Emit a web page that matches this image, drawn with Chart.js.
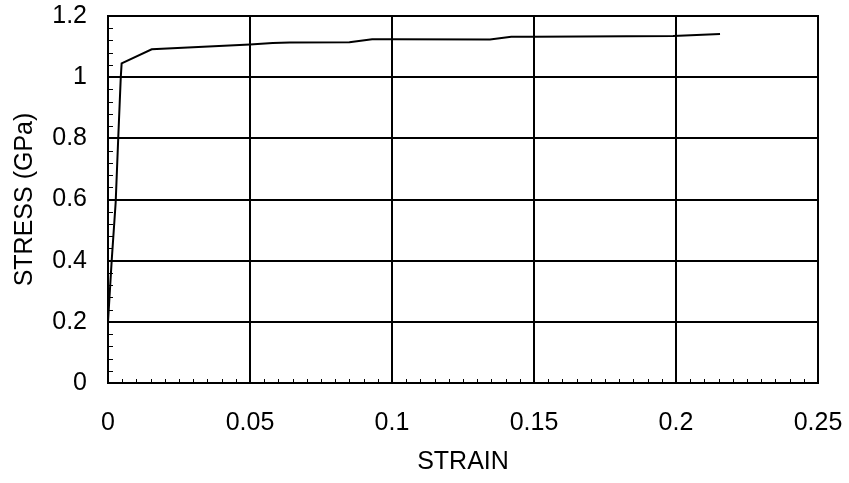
<!DOCTYPE html>
<html>
<head>
<meta charset="utf-8">
<script src="https://cdn.jsdelivr.net/npm/chart.js@4.4.1/dist/chart.umd.min.js"></script>
<style>
html,body{margin:0;padding:0;background:#fff;}
#wrap{width:849px;height:483px;position:relative;}
</style>
</head>
<body>
<div id="wrap"><canvas id="c" width="849" height="483"></canvas></div>
<script>
// Data
const strain = [0, 0.0013, 0.0027, 0.0036, 0.0045, 0.0048, 0.0154, 0.05, 0.058, 0.064, 0.085, 0.093, 0.1, 0.1345, 0.142, 0.15, 0.199, 0.2155];
const stress = [0.2, 0.4, 0.59, 0.8, 1.0, 1.045, 1.091, 1.107, 1.112, 1.113, 1.114, 1.124, 1.124, 1.123, 1.132, 1.132, 1.135, 1.141];
const xTicks = [0, 0.05, 0.1, 0.15, 0.2, 0.25];
const yTicks = [0, 0.2, 0.4, 0.6, 0.8, 1, 1.2];
const xMinorStep = 0.005;
const yMinorStep = 0.04;

const points = strain.map((x, i) => ({x: x, y: stress[i]}));
const FONT = "'Liberation Sans', Arial, sans-serif";

const frame = {
  id: 'frame',
  afterDatasetsDraw(chart) {
    const {ctx, chartArea: a, scales} = chart;
    ctx.save();
    ctx.strokeStyle = '#000';
    ctx.lineWidth = 1;
    const ys = scales.y;
    for (let v = 0; v <= 1.2 + 1e-9; v += yMinorStep) {
      const p = Math.round(ys.getPixelForValue(v)) + 0.5;
      ctx.beginPath(); ctx.moveTo(a.left, p); ctx.lineTo(a.left + 5, p); ctx.stroke();
    }
    const xs = scales.x;
    for (let v = 0; v <= 0.25 + 1e-9; v += xMinorStep) {
      const p = Math.round(xs.getPixelForValue(v)) + 0.5;
      ctx.beginPath(); ctx.moveTo(p, a.bottom); ctx.lineTo(p, a.bottom - 4); ctx.stroke();
    }
    ctx.lineWidth = 2;
    ctx.strokeRect(a.left, a.top, a.right - a.left, a.bottom - a.top);
    ctx.restore();
  }
};

new Chart(document.getElementById('c'), {
  type: 'scatter',
  data: {
    datasets: [{
      data: points,
      showLine: true,
      borderColor: '#000',
      borderWidth: 2,
      pointRadius: 0,
      tension: 0,
      fill: false
    }]
  },
  options: {
    responsive: false,
    animation: false,
    events: [],
    layout: {padding: {left: 0, right: 31, top: 16, bottom: 6}},
    plugins: {legend: {display: false}, tooltip: {enabled: false}},
    scales: {
      x: {
        type: 'linear', min: 0, max: 0.25,
        afterBuildTicks: s => { s.ticks = xTicks.map(v => ({value: v})); },
        afterFit: s => { s.height = 94; s.paddingLeft = 0; s.paddingRight = 0; },
        grid: {color: '#000', lineWidth: 2, drawTicks: false},
        border: {display: false},
        ticks: {
          color: '#000', padding: 25, maxRotation: 0,
          font: {family: FONT, size: 25},
          callback: v => String(v)
        },
        title: {display: true, text: 'STRAIN', color: '#000', font: {family: FONT, size: 25}, padding: {top: 0, bottom: 0}}
      },
      y: {
        type: 'linear', min: 0, max: 1.2,
        afterBuildTicks: s => { s.ticks = yTicks.map(v => ({value: v})); },
        afterFit: s => { s.width = 108; s.paddingTop = 0; s.paddingBottom = 0; },
        grid: {color: '#000', lineWidth: 2, drawTicks: false},
        border: {display: false},
        ticks: {
          color: '#000', padding: 21,
          font: {family: FONT, size: 25},
          callback: v => String(v)
        },
        title: {display: true, text: 'STRESS (GPa)', color: '#000', font: {family: FONT, size: 25}, padding: {top: 10, bottom: 0}}
      }
    }
  },
  plugins: [frame]
});
</script>
</body>
</html>
